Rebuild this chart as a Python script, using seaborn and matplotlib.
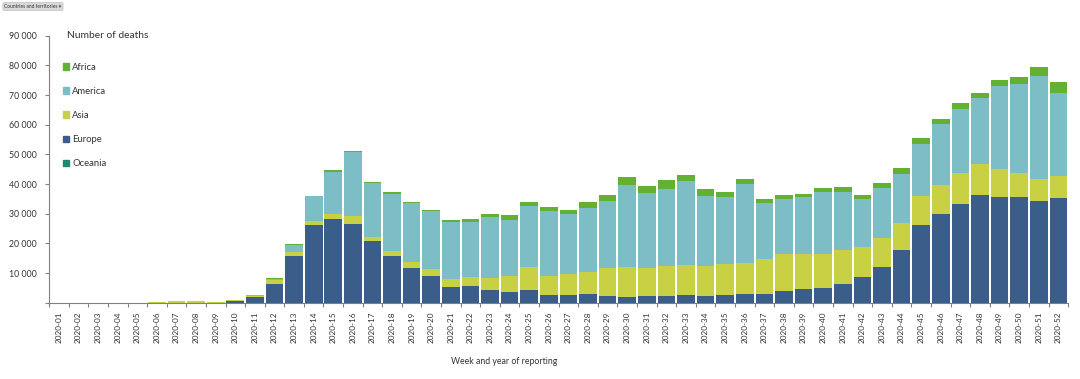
import seaborn as sns
import matplotlib.pyplot as plt
import matplotlib.patches as mpatches
import numpy as np
import pandas as pd

weeks = ["2020-%02d" % i for i in range(1, 53)]

europe = [0, 0, 0, 0, 0, 0, 0, 20, 50, 450,
          1800, 6300, 15900, 26200, 28300, 26400, 20800, 15800, 11700, 9200,
          5450, 5600, 4450, 3700, 4450, 2800, 2800, 2800, 2450, 2100,
          2300, 2350, 2450, 2350, 2450, 3000, 3100, 4100, 4550, 5000,
          6450, 8550, 12200, 17900, 26200, 30000, 33300, 36400, 35800, 35550,
          34300, 35300]
asia = [0, 0, 0, 0, 80, 350, 650, 700, 280, 350,
        650, 1250, 1200, 1350, 1700, 2900, 1500, 1750, 2100, 2250,
        2550, 2950, 3900, 5200, 7750, 6200, 7000, 7650, 9200, 9800,
        9350, 10100, 10100, 9850, 10650, 10550, 11500, 12350, 11800, 11450,
        11200, 10100, 9600, 8900, 9900, 9700, 10400, 10200, 9300, 8250,
        7500, 7400]
america = [0, 0, 0, 0, 0, 0, 0, 0, 0, 30,
           150, 450, 2450, 8250, 14200, 21500, 18000, 19250, 19900, 19450,
           19200, 18650, 20550, 19000, 20350, 21800, 20000, 21550, 22500, 27650,
           25350, 25850, 28350, 23900, 22600, 26550, 19000, 18450, 19350, 20750,
           19750, 16350, 16900, 16750, 17300, 20400, 21500, 22300, 28100, 30000,
           34500, 28000]
africa = [0, 0, 0, 0, 0, 0, 0, 0, 0, 5,
          40, 220, 220, 300, 500, 400, 500, 400, 400, 400,
          600, 900, 900, 1550, 1450, 1400, 1600, 1900, 2000, 2650,
          2300, 2900, 2200, 2100, 1600, 1700, 1200, 1300, 1100, 1500,
          1700, 1400, 1500, 2000, 2000, 1900, 2200, 1900, 2000, 2400,
          3000, 3800]
oceania = [0, 0, 0, 0, 0, 0, 0, 0, 0, 0,
           0, 5, 10, 15, 20, 15, 10, 5, 0, 0,
           0, 0, 0, 0, 0, 0, 0, 5, 10, 20,
           30, 40, 40, 40, 30, 20, 15, 10, 5, 0,
           0, 0, 0, 0, 0, 0, 0, 0, 0, 0,
           0, 0]

regions = ["Africa", "America", "Asia", "Europe", "Oceania"]
colors = {"Africa": "#63b132", "America": "#7dbec6", "Asia": "#c8d143",
          "Europe": "#3a5d89", "Oceania": "#168a75"}

df = pd.DataFrame({"week": weeks, "Africa": africa, "America": america,
                   "Asia": asia, "Europe": europe, "Oceania": oceania})

sns.set_style("white")
plt.rcParams["font.family"] = ["Lato", "DejaVu Sans"]

fig = plt.figure(figsize=(10.8, 3.79), dpi=100)
ax = fig.add_axes([0.0455, 0.201, 0.9435, 0.705])

# stack from the bottom: Oceania, Europe, Asia, America, Africa
bottom = np.zeros(len(weeks))
for reg in ["Oceania", "Europe", "Asia", "America", "Africa"]:
    sns.barplot(x=df["week"], y=df[reg], bottom=bottom, color=colors[reg],
                width=0.9, saturation=1, linewidth=0, ax=ax)
    bottom = bottom + df[reg].to_numpy()

ax.set_ylim(0, 90000)
ax.set_xlim(-0.5, 51.5)
ax.set_yticks(np.arange(0, 90001, 10000))
ax.set_yticklabels(["" if v == 0 else f"{v:,}".replace(",", " ")
                    for v in range(0, 90001, 10000)], fontsize=6.3, color="#333333")
ax.tick_params(axis="y", length=3, width=0.8, color="#808080", pad=6, left=True)
ax.set_xticks(range(52))
ax.set_xticklabels(weeks, rotation=90, fontsize=5.9, color="#333333")
ax.tick_params(axis="x", which="major", length=0, pad=6)
ax.set_xticks(np.arange(-0.5, 52, 1), minor=True)
ax.tick_params(axis="x", which="minor", length=3, width=0.8, color="#808080", bottom=True)
ax.set_xlabel("")
ax.set_ylabel("")

for s in ["top", "right"]:
    ax.spines[s].set_visible(False)
for s in ["left", "bottom"]:
    ax.spines[s].set_color("#808080")
    ax.spines[s].set_linewidth(0.8)

ax.text(0.0175, 1.0, "Number of deaths", transform=ax.transAxes,
        fontsize=7.4, color="#333333", va="center", ha="left")

handles = [mpatches.Patch(color=colors[r], label=r) for r in regions]
ax.legend(handles=handles, loc="upper left", bbox_to_anchor=(0.005, 0.93),
          frameon=False, fontsize=6.8, handlelength=0.7, handleheight=0.7,
          handletextpad=0.3, labelspacing=1.6, labelcolor="#333333")

fig.text(504 / 1080, 1 - 362 / 379, "Week and year of reporting",
         fontsize=6.3, color="#333333", ha="center", va="center")

fig.text(0.004, 1 - 6.5 / 379, "Countries and territories \u25be", fontsize=3.5,
         color="#333333", ha="left", va="center",
         bbox=dict(boxstyle="round,pad=0.3", fc="#d9d9d9", ec="#bfbfbf", lw=0.5))

fig.savefig("out.png", dpi=100)
